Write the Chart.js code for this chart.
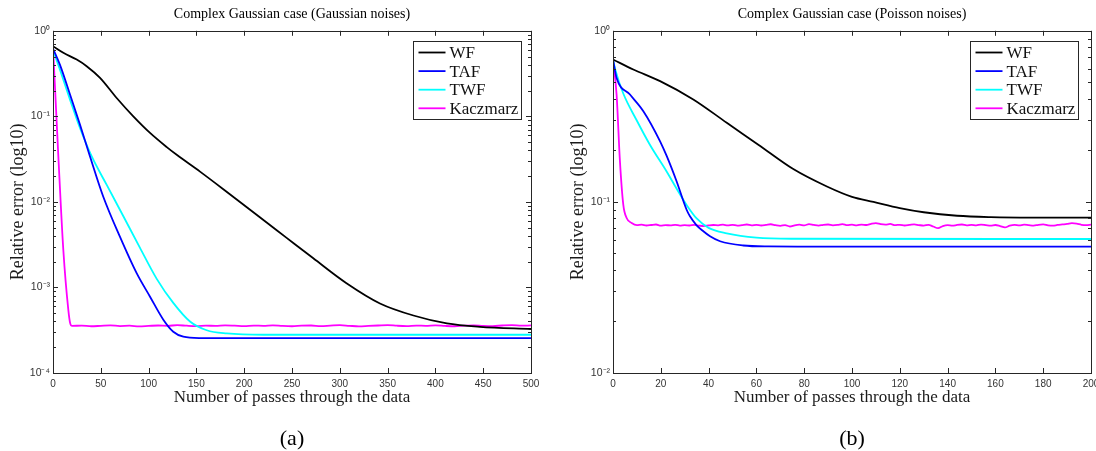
<!DOCTYPE html>
<html>
<head>
<meta charset="utf-8">
<script src="https://cdn.jsdelivr.net/npm/chart.js@4.4.1/dist/chart.umd.min.js"></script>
<style>
  body { margin: 0; background: #fff; }
  #wrap { position: relative; width: 1096px; height: 451px; overflow: hidden; }
  canvas { position: absolute; top: 0; }
</style>
</head>
<body>
<div id="wrap">
  <canvas id="chart-a" width="548" height="451" style="left:0"></canvas>
  <canvas id="chart-b" width="548" height="451" style="left:548px"></canvas>
</div>
<script>
/* (a) Gaussian noises */
const wfAx = [0, 10.8, 24.8, 35.2, 49.2, 66.6, 84, 101.5, 119, 129.4, 153.8, 185, 223.5, 244.4, 272.3, 307, 342, 377, 412, 446.6, 500]
const wfAy = [0.66, 0.553, 0.461, 0.386, 0.282, 0.164, 0.1, 0.064, 0.0437, 0.0355, 0.0226, 0.0123, 0.00575, 0.0038, 0.00219, 0.00112, 0.00065, 0.00047, 0.00038, 0.000347, 0.000327]

const tafAx = [0, 7.3, 17.8, 28.2, 38.7, 52.6, 70.1, 87.5, 101.5, 115.4, 125.8, 136.3, 153.8, 200, 300, 400, 500]
const tafAy = [0.62, 0.40, 0.18, 0.08, 0.034, 0.0115, 0.0039, 0.00147, 0.00078, 0.00042, 0.000304, 0.000266, 0.000256, 0.000255, 0.000255, 0.000255, 0.000255]

const twfAx = [0, 7.3, 17.8, 28.2, 40.4, 56.2, 73.6, 91, 108.5, 125.8, 143.3, 160.8, 181.7, 220, 300, 400, 500]
const twfAy = [0.60, 0.35, 0.157, 0.073, 0.0342, 0.0158, 0.0068, 0.0029, 0.00126, 0.00066, 0.0004, 0.000316, 0.00029, 0.00028, 0.00028, 0.00028, 0.00028]

const kacAx = [0, 5.6, 10.8, 16, 18]
const kacAy = [0.66, 0.034, 0.00274, 0.00055, 0.00038]
// plateau, one reading every 10 passes from 20 to 500
const kacAflat = [0.000355, 0.000358, 0.000352, 0.000356, 0.000360, 0.000354, 0.000357, 0.000351, 0.000355, 0.000359,
  0.000356, 0.000362, 0.000357, 0.000354, 0.000358, 0.000355, 0.000360, 0.000357, 0.000353, 0.000358,
  0.000356, 0.000361, 0.000355, 0.000352, 0.000357, 0.000359, 0.000354, 0.000358, 0.000362, 0.000356,
  0.000351, 0.000355, 0.000359, 0.000363, 0.000357, 0.000354, 0.000358, 0.000356, 0.000360, 0.000355,
  0.000352, 0.000357, 0.000361, 0.000356, 0.000354, 0.000359, 0.000362, 0.000357, 0.000360]

/* (b) Poisson noises */
const wfBx = [0, 8.5, 19.7, 33.6, 47.6, 60.8, 75.6, 89.5, 100, 109, 120, 130, 144, 158, 175, 200]
const wfBy = [0.68, 0.594, 0.508, 0.397, 0.29, 0.216, 0.155, 0.123, 0.107, 0.1, 0.092, 0.087, 0.083, 0.0815, 0.081, 0.081]

const tafBx = [0, 1.5, 7.1, 12.7, 19.7, 22.5, 26.6, 30.8, 32.2, 35, 37.8, 40.6, 44.8, 54.5, 65, 80, 200]
const tafBy = [0.68, 0.53, 0.424, 0.339, 0.226, 0.185, 0.132, 0.09, 0.0824, 0.073, 0.0674, 0.063, 0.0589, 0.0556, 0.0549, 0.0548, 0.0548]

const twfBx = [0, 1, 4.3, 9.9, 15.5, 22.5, 27, 31, 35, 40, 47.6, 60, 75, 200]
const twfBy = [0.68, 0.59, 0.43, 0.30, 0.215, 0.15, 0.117, 0.095, 0.080, 0.0705, 0.0655, 0.0618, 0.0609, 0.0607]

const kacBx = [0, 1.5, 2.9, 4.3, 5.7, 7.8]
const kacBy = [0.68, 0.424, 0.173, 0.0964, 0.0805, 0.0753]
// plateau, one reading every 2 passes from 10 to 200
const kacBflat = [0.0731, 0.0736, 0.0728, 0.0733, 0.0738, 0.0727, 0.0732, 0.0729, 0.0735, 0.0726,
  0.0731, 0.0728, 0.0734, 0.0727, 0.0722, 0.0729, 0.0733, 0.0730, 0.0736, 0.0729,
  0.0734, 0.0727, 0.0732, 0.0738, 0.0730, 0.0735, 0.0728, 0.0733, 0.0740, 0.0731,
  0.0725, 0.0732, 0.0718, 0.0730, 0.0736, 0.0729, 0.0741, 0.0733, 0.0727, 0.0735,
  0.0738, 0.0730, 0.0734, 0.0742, 0.0731, 0.0736, 0.0729, 0.0737, 0.0733, 0.0745,
  0.0752, 0.0741, 0.0737, 0.0743, 0.0731, 0.0735, 0.0728, 0.0733, 0.0739, 0.0732,
  0.0727, 0.0734, 0.0718, 0.0702, 0.0722, 0.0731, 0.0726, 0.0734, 0.0738, 0.0730,
  0.0735, 0.0729, 0.0737, 0.0732, 0.0727, 0.0733, 0.0722, 0.0709, 0.0726, 0.0734,
  0.0729, 0.0736, 0.0731, 0.0727, 0.0735, 0.0739, 0.0730, 0.0726, 0.0733, 0.0738,
  0.0743, 0.0751, 0.0746, 0.0735, 0.0731, 0.0737]

const labels = ['WF', 'TAF', 'TWF', 'Kaczmarz']
const colors = ['#000000', '#0000ff', '#00ffff', '#ff00ff']

const serif = "'Liberation Serif', 'DejaVu Serif', serif"
const sans = "'Liberation Sans', Arial, sans-serif"
const axisColor = '#262626'

const pts = (xs, ys) => xs.map((x, i) => ({ x: x, y: ys[i] }))
const flat = (x0, step, ys) => ys.map((y, i) => ({ x: x0 + i * step, y: y }))

const sup = { '-': '\u207B', '0': '\u2070', '1': '\u00B9', '2': '\u00B2', '3': '\u00B3', '4': '\u2074' }
const isDecade = v => Math.abs(Math.log10(v) - Math.round(Math.log10(v))) < 1e-6
const decadeLabel = v => isDecade(v) ? '10' + String(Math.round(Math.log10(v))).split('').map(c => sup[c]).join('') : ''

// matlab style box with inward ticks on all four sides
const boxAxes = {
    id: 'boxAxes',
    afterDatasetsDraw(chart) {
        const { ctx, chartArea: a, scales: { x, y } } = chart
        ctx.save()
        ctx.strokeStyle = axisColor
        ctx.lineWidth = 1
        ctx.beginPath()
        x.ticks.forEach(t => {
            const px = Math.round(x.getPixelForValue(t.value)) + 0.5
            ctx.moveTo(px, a.bottom); ctx.lineTo(px, a.bottom - 5)
            ctx.moveTo(px, a.top); ctx.lineTo(px, a.top + 5)
        })
        const lo = Math.round(Math.log10(y.min)), hi = Math.round(Math.log10(y.max))
        for (let e = lo; e <= hi; e++) {
            for (let d = 1; d <= 9; d++) {
                const v = d * Math.pow(10, e)
                if (v > y.max * 1.0001) break
                const py = Math.round(y.getPixelForValue(v)) + 0.5
                const len = d === 1 ? 5 : 3
                ctx.moveTo(a.left, py); ctx.lineTo(a.left + len, py)
                ctx.moveTo(a.right, py); ctx.lineTo(a.right - len, py)
            }
        }
        ctx.stroke()
        ctx.strokeRect(Math.round(a.left) + 0.5, Math.round(a.top) + 0.5, Math.round(a.right - a.left), Math.round(a.bottom - a.top))
        ctx.restore()
    }
}

// framed legend inside the top right corner
const boxLegend = {
    id: 'boxLegend',
    afterDraw(chart, args, opts) {
        const { ctx, chartArea: a } = chart
        const sets = chart.data.datasets
        ctx.save()
        ctx.font = '17px ' + serif
        const textW = Math.max(...sets.map(d => ctx.measureText(d.label).width))
        const w = Math.round(5 + 27 + 4 + textW + 3)
        const h = 78
        const left = Math.round(a.right - opts.right - w) + 0.5
        const top = Math.round(a.top + 10) + 0.5
        ctx.fillStyle = '#fff'
        ctx.fillRect(left, top, w, h)
        ctx.strokeStyle = axisColor
        ctx.lineWidth = 1
        ctx.strokeRect(left, top, w, h)
        ctx.textBaseline = 'middle'
        sets.forEach((d, i) => {
            const cy = top + 11 + i * 18.6
            ctx.strokeStyle = d.borderColor
            ctx.lineWidth = 1.8
            ctx.beginPath()
            ctx.moveTo(left + 5, cy); ctx.lineTo(left + 32, cy)
            ctx.stroke()
            ctx.fillStyle = '#111'
            ctx.fillText(d.label, left + 36, cy + 1)
        })
        ctx.restore()
    }
}

function drawPanel(id, title, caption, series, xMax, xStep, yMin, padLeft, padRight, legendRight) {
    new Chart(document.getElementById(id), {
        type: 'line',
        data: {
            datasets: series.map((s, i) => ({
                label: labels[i],
                data: s,
                borderColor: colors[i],
                borderWidth: 1.8,
                pointRadius: 0,
                fill: false,
                cubicInterpolationMode: 'monotone'
            }))
        },
        options: {
            responsive: false,
            animation: false,
            devicePixelRatio: 1,
            layout: { padding: { left: padLeft, right: padRight, top: 2, bottom: 1 } },
            plugins: {
                legend: { display: false },
                tooltip: { enabled: false },
                boxLegend: { right: legendRight },
                title: {
                    display: true,
                    text: title,
                    fullSize: false,
                    color: '#000',
                    font: { family: serif, size: 14, weight: 'normal' },
                    padding: { top: 4, bottom: 8 }
                },
                subtitle: {
                    display: true,
                    text: caption,
                    position: 'bottom',
                    fullSize: false,
                    color: '#000',
                    font: { family: serif, size: 22, weight: 'normal', lineHeight: 1 },
                    padding: { top: 16, bottom: 0 }
                }
            },
            scales: {
                x: {
                    type: 'linear',
                    min: 0,
                    max: xMax,
                    grid: { display: false, drawTicks: false },
                    border: { display: false },
                    ticks: { stepSize: xStep, maxRotation: 0, autoSkip: false, padding: 5, color: '#333', font: { family: sans, size: 10 } },
                    title: { display: true, text: 'Number of passes through the data', color: '#1a1a1a', font: { family: serif, size: 17 }, padding: { top: 0, bottom: 4 } },
                    afterFit(s) { s.height = 39; s.paddingLeft = 0; s.paddingRight = 0 }
                },
                y: {
                    type: 'logarithmic',
                    min: yMin,
                    max: 1,
                    grid: { display: false, drawTicks: false },
                    border: { display: false },
                    ticks: { autoSkip: false, padding: 3, color: '#333', font: { family: sans, size: 10.5 }, callback: v => decadeLabel(v) },
                    title: { display: true, text: 'Relative error (log10)', color: '#1a1a1a', font: { family: serif, size: 18 }, padding: { top: 3, bottom: 0 } },
                    afterFit(s) { s.width = 49; s.paddingTop = 0; s.paddingBottom = 0 }
                }
            }
        },
        plugins: [boxAxes, boxLegend]
    })
}

drawPanel('chart-a', 'Complex Gaussian case (Gaussian noises)', '(a)', [
    pts(wfAx, wfAy),
    pts(tafAx, tafAy),
    pts(twfAx, twfAy),
    pts(kacAx, kacAy).concat(flat(20, 10, kacAflat))
], 500, 50, 1e-4, 4, 17, 10)

drawPanel('chart-b', 'Complex Gaussian case (Poisson noises)', '(b)', [
    pts(wfBx, wfBy),
    pts(tafBx, tafBy),
    pts(twfBx, twfBy),
    pts(kacBx, kacBy).concat(flat(10, 2, kacBflat))
], 200, 20, 1e-2, 16, 5, 13)
</script>
</body>
</html>
